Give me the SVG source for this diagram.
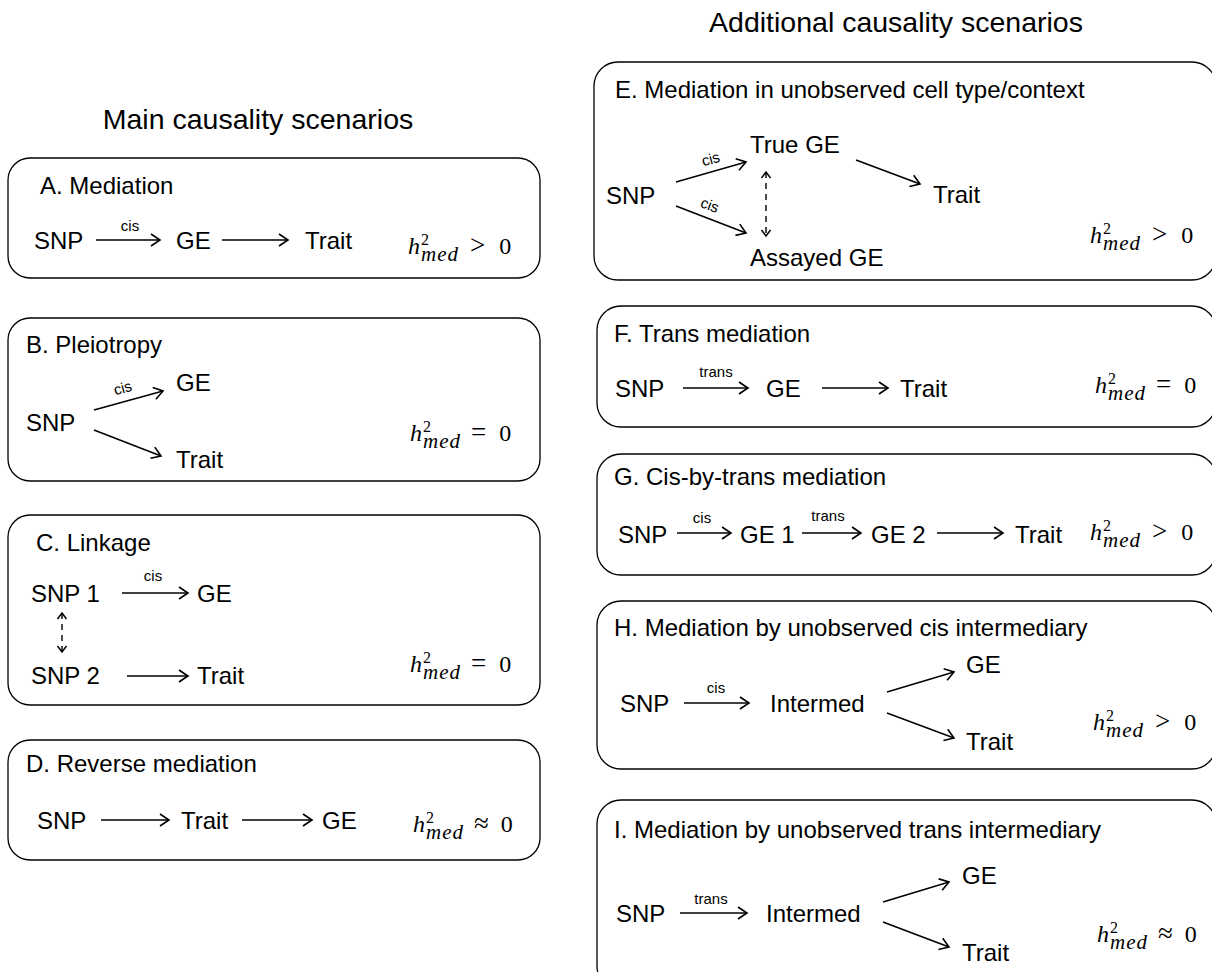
<svg xmlns="http://www.w3.org/2000/svg" width="1212" height="972" viewBox="0 0 1212 972">
<defs>
<style>
.box{fill:#fff;stroke:#000;stroke-width:1.3}
.hd{font-family:"Liberation Sans",Arial,sans-serif;font-size:28.5px;fill:#000}
.tt{font-family:"Liberation Sans",Arial,sans-serif;font-size:24px;fill:#000}
.nd{font-family:"Liberation Sans",Arial,sans-serif;font-size:24px;fill:#000}
.lb{font-family:"Liberation Sans",Arial,sans-serif;font-size:15px;fill:#000;text-anchor:middle}
.mf{font-family:"Liberation Serif","Times New Roman",serif;font-size:24px;fill:#000}
.it{font-style:italic}
.sp{font-size:16px}
.sb{font-size:21px;font-style:italic;letter-spacing:1px}
.rl{font-size:27px}
.ar{fill:none;stroke:#000;stroke-width:1.5;marker-end:url(#ah)}
.da{fill:none;stroke:#000;stroke-width:1.4;stroke-dasharray:6,5;marker-start:url(#ahs);marker-end:url(#ahs)}
</style>
<marker id="ah" markerUnits="userSpaceOnUse" viewBox="-12 -8 14 16" refX="0" refY="0" markerWidth="14" markerHeight="16" orient="auto-start-reverse"><path d="M-9,-6 L0,0 L-9,6" fill="none" stroke="#000" stroke-width="1.6"/></marker>
<marker id="ahs" markerUnits="userSpaceOnUse" viewBox="-10 -6 12 12" refX="0" refY="0" markerWidth="12" markerHeight="12" orient="auto-start-reverse"><path d="M-6,-4.5 L0,0 L-6,4.5" fill="none" stroke="#000" stroke-width="1.5"/></marker>
</defs>

<text class="hd" x="258" y="129" text-anchor="middle">Main causality scenarios</text>
<text class="hd" x="896" y="32" text-anchor="middle">Additional causality scenarios</text>

<!-- Panel A -->
<g id="panelA">
<rect class="box" x="8" y="158" width="532" height="120" rx="22"/>
<text class="tt" x="40" y="194">A. Mediation</text>
<text class="nd" x="34" y="249">SNP</text>
<text class="nd" x="176" y="249">GE</text>
<text class="nd" x="305" y="249">Trait</text>
<text class="lb" x="130" y="231">cis</text>
<text class="mf" x="408" y="254"><tspan class="it">h</tspan><tspan class="sp" dx="1" dy="-9">2</tspan><tspan class="sb" dx="-8" dy="16">med</tspan><tspan class="rl" dx="11" dy="-7">&gt;</tspan><tspan dx="14">0</tspan></text>
</g>

<!-- Panel B -->
<g id="panelB">
<rect class="box" x="8" y="318" width="532" height="163" rx="22"/>
<text class="tt" x="26" y="353">B. Pleiotropy</text>
<text class="nd" x="26" y="431">SNP</text>
<text class="nd" x="176" y="391">GE</text>
<text class="nd" x="176" y="468">Trait</text>
<text class="lb" x="124" y="393" transform="rotate(-15 124 393)">cis</text>
<text class="mf" x="410" y="441"><tspan class="it">h</tspan><tspan class="sp" dx="1" dy="-9">2</tspan><tspan class="sb" dx="-8" dy="16">med</tspan><tspan class="rl" dx="10" dy="-7">=</tspan><tspan dx="13">0</tspan></text>
</g>

<!-- Panel C -->
<g id="panelC">
<rect class="box" x="8" y="515" width="532" height="190" rx="22"/>
<text class="tt" x="36" y="551">C. Linkage</text>
<text class="nd" x="31" y="602">SNP 1</text>
<text class="nd" x="197" y="602">GE</text>
<text class="nd" x="31" y="684">SNP 2</text>
<text class="nd" x="197" y="684">Trait</text>
<text class="lb" x="153" y="581">cis</text>
<text class="mf" x="410" y="672"><tspan class="it">h</tspan><tspan class="sp" dx="1" dy="-9">2</tspan><tspan class="sb" dx="-8" dy="16">med</tspan><tspan class="rl" dx="10" dy="-7">=</tspan><tspan dx="13">0</tspan></text>
</g>

<!-- Panel D -->
<g id="panelD">
<rect class="box" x="8" y="740" width="532" height="120" rx="22"/>
<text class="tt" x="26" y="772">D. Reverse mediation</text>
<text class="nd" x="37" y="829">SNP</text>
<text class="nd" x="181" y="829">Trait</text>
<text class="nd" x="322" y="829">GE</text>
<text class="mf" x="413" y="832"><tspan class="it">h</tspan><tspan class="sp" dx="1" dy="-9">2</tspan><tspan class="sb" dx="-8" dy="16">med</tspan><tspan class="rl" dx="10" dy="-7">≈</tspan><tspan dx="12">0</tspan></text>
</g>

<!-- Panel E -->
<g id="panelE">
<rect class="box" x="594" y="62" width="622" height="218" rx="24"/>
<text class="tt" x="615" y="98">E. Mediation in unobserved cell type/context</text>
<text class="nd" x="606" y="204">SNP</text>
<text class="nd" x="750" y="153">True GE</text>
<text class="nd" x="933" y="203">Trait</text>
<text class="nd" x="750" y="266">Assayed GE</text>
<text class="lb" x="712" y="164" transform="rotate(-15 712 164)">cis</text>
<text class="lb" x="708" y="210" transform="rotate(20 708 210)">cis</text>
<text class="mf" x="1090" y="243"><tspan class="it">h</tspan><tspan class="sp" dx="1" dy="-9">2</tspan><tspan class="sb" dx="-8" dy="16">med</tspan><tspan class="rl" dx="11" dy="-7">&gt;</tspan><tspan dx="14">0</tspan></text>
</g>

<!-- Panel F -->
<g id="panelF">
<rect class="box" x="597" y="306" width="619" height="121" rx="24"/>
<text class="tt" x="614" y="342">F. Trans mediation</text>
<text class="nd" x="615" y="397">SNP</text>
<text class="nd" x="766" y="397">GE</text>
<text class="nd" x="900" y="397">Trait</text>
<text class="lb" x="716" y="377">trans</text>
<text class="mf" x="1095" y="393"><tspan class="it">h</tspan><tspan class="sp" dx="1" dy="-9">2</tspan><tspan class="sb" dx="-8" dy="16">med</tspan><tspan class="rl" dx="10" dy="-7">=</tspan><tspan dx="13">0</tspan></text>
</g>

<!-- Panel G -->
<g id="panelG">
<rect class="box" x="597" y="454" width="619" height="121" rx="24"/>
<text class="tt" x="614" y="485">G. Cis-by-trans mediation</text>
<text class="nd" x="618" y="543">SNP</text>
<text class="nd" x="740" y="543">GE 1</text>
<text class="nd" x="871" y="543">GE 2</text>
<text class="nd" x="1015" y="543">Trait</text>
<text class="lb" x="702" y="523">cis</text>
<text class="lb" x="828" y="521">trans</text>
<text class="mf" x="1090" y="540"><tspan class="it">h</tspan><tspan class="sp" dx="1" dy="-9">2</tspan><tspan class="sb" dx="-8" dy="16">med</tspan><tspan class="rl" dx="11" dy="-7">&gt;</tspan><tspan dx="14">0</tspan></text>
</g>

<!-- Panel H -->
<g id="panelH">
<rect class="box" x="597" y="601" width="619" height="168" rx="24"/>
<text class="tt" x="614" y="636">H. Mediation by unobserved cis intermediary</text>
<text class="nd" x="620" y="712">SNP</text>
<text class="nd" x="770" y="712">Intermed</text>
<text class="nd" x="966" y="673">GE</text>
<text class="nd" x="966" y="750">Trait</text>
<text class="lb" x="716" y="693">cis</text>
<text class="mf" x="1093" y="730"><tspan class="it">h</tspan><tspan class="sp" dx="1" dy="-9">2</tspan><tspan class="sb" dx="-8" dy="16">med</tspan><tspan class="rl" dx="11" dy="-7">&gt;</tspan><tspan dx="14">0</tspan></text>
</g>

<!-- Panel I -->
<g id="panelI">
<rect class="box" x="597" y="800" width="619" height="190" rx="24"/>
<text class="tt" x="614" y="838">I. Mediation by unobserved trans intermediary</text>
<text class="nd" x="616" y="922">SNP</text>
<text class="nd" x="766" y="922">Intermed</text>
<text class="nd" x="962" y="884">GE</text>
<text class="nd" x="962" y="961">Trait</text>
<text class="lb" x="711" y="904">trans</text>
<text class="mf" x="1097" y="942"><tspan class="it">h</tspan><tspan class="sp" dx="1" dy="-9">2</tspan><tspan class="sb" dx="-8" dy="16">med</tspan><tspan class="rl" dx="10" dy="-7">≈</tspan><tspan dx="12">0</tspan></text>
</g>

<!-- Connectors -->
<g id="connectors">
<line class="ar" x1="96" y1="240" x2="160" y2="240"/>
<line class="ar" x1="222" y1="240" x2="288" y2="240"/>
<line class="ar" x1="94" y1="410" x2="163" y2="391"/>
<line class="ar" x1="94" y1="430" x2="161" y2="456"/>
<line class="ar" x1="122" y1="593" x2="188" y2="593"/>
<line class="ar" x1="127" y1="676" x2="188" y2="676"/>
<line class="da" x1="62" y1="613" x2="62" y2="652"/>
<line class="ar" x1="101" y1="820" x2="169" y2="820"/>
<line class="ar" x1="242" y1="820" x2="312" y2="820"/>
<line class="ar" x1="676" y1="182" x2="746" y2="162"/>
<line class="ar" x1="676" y1="206" x2="746" y2="233"/>
<line class="da" x1="766" y1="172" x2="766" y2="236"/>
<line class="ar" x1="856" y1="160" x2="920" y2="184"/>
<line class="ar" x1="683" y1="388" x2="748" y2="388"/>
<line class="ar" x1="822" y1="388" x2="888" y2="388"/>
<line class="ar" x1="677" y1="533" x2="731" y2="533"/>
<line class="ar" x1="802" y1="533" x2="861" y2="533"/>
<line class="ar" x1="937" y1="533" x2="1003" y2="533"/>
<line class="ar" x1="684" y1="703" x2="749" y2="703"/>
<line class="ar" x1="887" y1="692" x2="954" y2="672"/>
<line class="ar" x1="887" y1="713" x2="954" y2="738"/>
<line class="ar" x1="680" y1="913" x2="747" y2="913"/>
<line class="ar" x1="883" y1="902" x2="949" y2="882"/>
<line class="ar" x1="883" y1="922" x2="949" y2="947"/>
</g>
</svg>
